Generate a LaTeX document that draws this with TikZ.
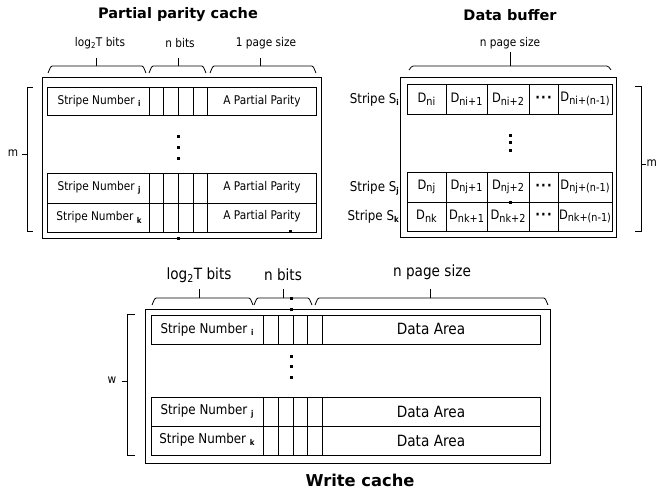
\documentclass[tikz,border=0pt]{standalone}
\usepackage{fontspec}
\setmainfont{DejaVu Sans}[FakeStretch=0.88]
\newfontfamily\headfont{DejaVu Sans}
% helpers: subscript in bold, and D cells
\newcommand\bsub[1]{\raisebox{-2.2pt}{\fontsize{8}{8}\selectfont\bfseries #1}}
\newcommand\dsub[1]{D\raisebox{-2.6pt}{\fontsize{11}{11}\selectfont #1}}
\newcommand\threedots{{\bfseries\fontsize{14}{14}\selectfont ·\hspace{1.2pt}·\hspace{1.2pt}·}}
% flat brace over a span: x1, x2, xm, ytop, yh, yend
\newcommand\spanbrace[6]{%
  \draw[bracketline] (#1,#6) -- (#1+3,#5) -- (#2-3,#5) -- (#2,#6);
  \draw[line width=0.8pt] (#3,#5) -- (#3,#4);}
\begin{document}
\begin{tikzpicture}[x=1pt,y=-1pt,
  box/.style={draw, line width=0.8pt},
  bracketline/.style={draw, line width=0.8pt, rounded corners=1.2pt},
  title/.style={font=\headfont\bfseries\fontsize{14.5}{16}\selectfont, inner sep=0pt},
  title2/.style={font=\headfont\bfseries\fontsize{16.3}{18}\selectfont, inner sep=0pt},
  headsmall/.style={font=\fontsize{12}{14}\selectfont, inner sep=0pt},
  headbig/.style={font=\fontsize{15.5}{17}\selectfont, inner sep=0pt},
  cellsmall/.style={font=\fontsize{12}{14}\selectfont, inner sep=0pt},
  cellbig/.style={font=\fontsize{13.5}{15}\selectfont, inner sep=0pt},
  areabig/.style={font=\fontsize{15.5}{17}\selectfont, inner sep=0pt},
  dcell/.style={font=\fontsize{13}{15}\selectfont, inner sep=0pt},
  side/.style={font=\fontsize{12}{14}\selectfont, inner sep=0pt},
  dot/.style={fill=black, draw=none}]
\useasboundingbox (0,0) rectangle (657,491);

%%%%%%%%%%%%%%%% Partial parity cache %%%%%%%%%%%%%%%%
\node[title] (ppc) at (178,15) {Partial parity cache};
\node[headsmall] (ppcA) at (100,43) {log\textsubscript{2}T bits};
\node[headsmall] (ppcB) at (180,43) {n bits};
\node[headsmall] (ppcC) at (266,43) {1 page size};
\spanbrace{48}{146}{96}{58}{66}{73}
\spanbrace{149}{206}{178}{58}{66}{73}
\spanbrace{210}{316}{260}{58}{66}{73}

\draw[box] (42,77) rectangle (321,238);
\foreach \ya/\yb in {87/115, 173/203, 203/232}{
  \draw[box] (47,\ya) rectangle (316,\yb);
  \foreach \xx in {149,163,178,193,207}
    \draw[line width=0.8pt] (\xx,\ya) -- (\xx,\yb);
}
\node[cellsmall] (ppcI) at (99,101) {Stripe Number \bsub{i}};
\node[cellsmall] (ppcJ) at (99,188) {Stripe Number \bsub{j}};
\node[cellsmall] (ppcK) at (99,217.5) {Stripe Number \bsub{k}};
\node[cellsmall] (ppcPI) at (262,101) {A Partial Parity};
\node[cellsmall] (ppcPJ) at (262,187) {A Partial Parity};
\node[cellsmall] (ppcPK) at (262,216.5) {A Partial Parity};
\foreach \yy in {136,147,158}
  \fill[dot] (176.5,\yy-1.5) rectangle (179.5,\yy+1.5);
\fill[dot] (176.5,237) rectangle (179.5,240);
\fill[dot] (288.5,230) rectangle (292,232.5);

% m bracket
\draw[line width=0.8pt] (33,87) -- (27,87) -- (27,231) -- (33,231);
\draw[line width=0.8pt] (27,154) -- (22,154);
\node[side] (ppcM) at (13,153) {m};

%%%%%%%%%%%%%%%% Data buffer %%%%%%%%%%%%%%%%
\node[title] (db) at (510,15) {Data buffer};
\node[headsmall] (dbA) at (510,43) {n page size};
\spanbrace{409}{611}{510}{52}{66}{70}

\draw[box] (400,77) rectangle (616,237);
\foreach \ya/\yb in {84/114, 172/202, 202/231}{
  \draw[box] (407,\ya) rectangle (612,\yb);
  \foreach \xx in {446,487,529,558}
    \draw[line width=0.8pt] (\xx,\ya) -- (\xx,\yb);
}
\foreach \r/\yy in {i/99, j/187, k/216.5}{
  \node[dcell] (db\r1) at (426.5,\yy) {\dsub{n\r}};
  \node[dcell] (db\r2) at (466.5,\yy) {\dsub{n\r+1}};
  \node[dcell] (db\r3) at (508,\yy) {\dsub{n\r+2}};
  \node[dcell] (db\r4) at (543.5,\yy) {\threedots};
  \node[dcell] (db\r5) at (585,\yy) {\dsub{n\r+(n-1)}};
}
\node[cellbig, anchor=east] (dbSI) at (399,100) {Stripe S\bsub{i}};
\node[cellbig, anchor=east] (dbSJ) at (399,188) {Stripe S\bsub{j}};
\node[cellbig, anchor=east] (dbSK) at (399,217) {Stripe S\bsub{k}};
\foreach \yy in {135,142,150}
  \fill[dot] (509,\yy-1) rectangle (511.5,\yy+1.5);
\fill[dot] (509,201) rectangle (511.5,203.5);

% m bracket on the right
\draw[line width=0.8pt] (635,86) -- (641,86) -- (641,231) -- (635,231);
\draw[line width=0.8pt] (641,164) -- (645.5,164);
\node[side, anchor=west] (dbM) at (646.3,163) {m};

%%%%%%%%%%%%%%%% Write cache %%%%%%%%%%%%%%%%
\node[title2] (wc) at (360,480) {Write cache};
\node[headbig] (wcA) at (199,275) {log\textsubscript{2}T bits};
\node[headbig] (wcB) at (283,275) {n bits};
\node[headbig] (wcC) at (432,272) {n page size};
\spanbrace{152}{253}{199}{289}{298}{305}
\spanbrace{254}{312}{283}{289}{298}{305}
\spanbrace{315}{548}{430}{289}{298}{305}

\draw[box] (145,309) rectangle (550,463);
\foreach \ya/\yb in {315/344, 397/426, 426/455}{
  \draw[box] (151,\ya) rectangle (540,\yb);
  \foreach \xx in {263,278,293,307,322}
    \draw[line width=0.8pt] (\xx,\ya) -- (\xx,\yb);
}
\node[cellbig] (wcI) at (207,329.5) {Stripe Number \bsub{i}};
\node[cellbig] (wcJ) at (207,411.5) {Stripe Number \bsub{j}};
\node[cellbig] (wcK) at (207,440) {Stripe Number \bsub{k}};
\node[areabig] (wcDI) at (431,329) {Data Area};
\node[areabig] (wcDJ) at (431,411.5) {Data Area};
\node[areabig] (wcDK) at (431,440.5) {Data Area};
\foreach \yy in {356,366,377}
  \fill[dot] (289.5,\yy-1.5) rectangle (292.5,\yy+1.5);
\fill[dot] (289.5,297) rectangle (292.5,299.5);
\fill[dot] (289.5,308) rectangle (292.5,310.5);

% w bracket
\draw[line width=0.8pt] (135,314) -- (127,314) -- (127,455) -- (135,455);
\draw[line width=0.8pt] (127,381) -- (122,381);
\node[side] (wcW) at (112,380) {w};
\end{tikzpicture}
\end{document}
